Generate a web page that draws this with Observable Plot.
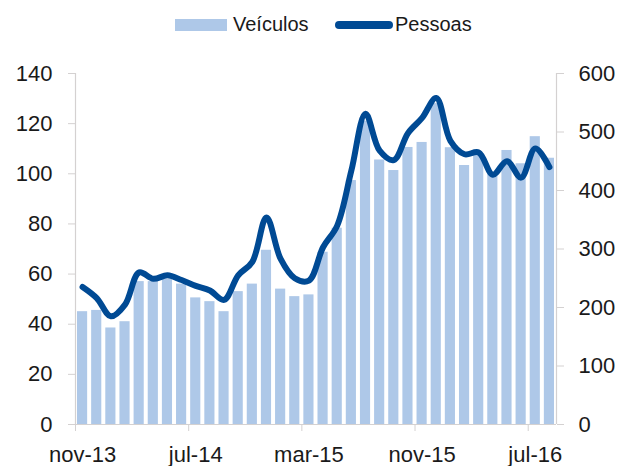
<!DOCTYPE html>
<html>
<head>
<meta charset="utf-8">
<script src="https://cdn.jsdelivr.net/npm/d3@7"></script>
<script src="https://cdn.jsdelivr.net/npm/@observablehq/plot@0.6"></script>
<style>
  html, body { margin: 0; padding: 0; background: #fff; }
  body { width: 632px; height: 466px; overflow: hidden; font-family: "Liberation Sans", Arial, sans-serif; color: #1a1a1a; }
  #legend { position: relative; height: 45px; width: 632px; }
  #legend .sw { position: absolute; }
  #legend .lb { position: absolute; font-size: 20px; line-height: 20px; top: 14px; }
  #chart svg { display: block; }
</style>
</head>
<body>
<div id="legend">
  <div class="sw" style="left:175px;top:19px;width:52px;height:12px;background:#aec8e8"></div>
  <div class="lb" style="left:233px">Veículos</div>
  <div class="sw" style="left:335px;top:21px;width:58px;height:8px;border-radius:4px;background:#004a94"></div>
  <div class="lb" style="left:395px">Pessoas</div>
</div>
<div id="chart"></div>
<script>
const months = ["nov-13","dez-13","jan-14","fev-14","mar-14","abr-14","mai-14","jun-14","jul-14","ago-14","set-14","out-14",
  "nov-14","dez-14","jan-15","fev-15","mar-15","abr-15","mai-15","jun-15","jul-15","ago-15","set-15","out-15",
  "nov-15","dez-15","jan-16","fev-16","mar-16","abr-16","mai-16","jun-16","jul-16","ago-16"];
const veiculos = [45, 45.5, 38.5, 41, 57, 57, 58, 56, 50.5, 49, 45, 53, 56, 69.5, 54, 51, 51.7, 68.7, 78.3, 97.3,
  121, 105.5, 101.3, 110.5, 112.5, 128, 110.4, 103.3, 108, 100, 109.3, 104, 114.8, 106.2];
const pessoas = [235, 216, 185, 205, 260, 249, 255, 247, 237, 229, 213, 255, 278, 354, 283, 250, 246, 303, 340, 434,
  531, 468, 452, 498, 524, 558, 485, 462, 465, 427, 450, 422, 472, 440];
const leftTicks = [0, 20, 40, 60, 80, 100, 120, 140];
const rightTicks = [0, 100, 200, 300, 400, 500, 600];
const xTickLabels = ["nov-13", "jul-14", "mar-15", "nov-15", "jul-16"];

const leftMax = 140, rightMax = 600;
const toLeft = v => v * leftMax / rightMax;
const data = months.map((m, i) => ({m, i, v: veiculos[i], p: pessoas[i]}));
const labelIdx = xTickLabels.map(l => months.indexOf(l));

const axisColor = "#d4d1d1";
const textColor = "#1a1a1a";

const chart = Plot.plot({
  width: 632,
  height: 421,
  marginLeft: 75,
  marginRight: 76,
  marginTop: 28,
  marginBottom: 42,
  style: {fontFamily: "'Liberation Sans', Arial, sans-serif", background: "#fff"},
  x: {type: "linear", domain: [0, months.length]},
  y: {domain: [0, leftMax]},
  marks: [
    Plot.rectY(data, {x1: "i", x2: d => d.i + 1, y: "v", fill: "#aec8e8", insetLeft: 2, insetRight: 2}),
    Plot.ruleX([0, months.length], {stroke: axisColor, strokeWidth: 1.2}),
    Plot.ruleY([0], {stroke: axisColor, strokeWidth: 1.2}),
    Plot.axisY(leftTicks, {anchor: "left", tickSize: 7, tickPadding: 16, stroke: axisColor, fill: textColor, fontSize: 22, label: null}),
    Plot.axisY(rightTicks.map(toLeft), {anchor: "right", tickSize: 7, tickPadding: 15, stroke: axisColor, fill: textColor, fontSize: 22, label: null,
      tickFormat: d => String(Math.round(d * rightMax / leftMax))}),
    Plot.axisX(labelIdx, {anchor: "bottom", tickSize: 7, stroke: axisColor, tickFormat: () => "", label: null}),
    Plot.axisX(labelIdx.map(i => i + 0.5), {anchor: "bottom", tickSize: 0, tickPadding: 22, fill: textColor, fontSize: 22, label: null,
      tickFormat: d => months[Math.round(d - 0.5)]}),
    Plot.line(data, {x: d => d.i + 0.5, y: d => toLeft(d.p), stroke: "#004a94", strokeWidth: 6, curve: "catmull-rom",
      strokeLinecap: "round", strokeLinejoin: "round"})
  ]
});
document.getElementById("chart").appendChild(chart);
</script>
</body>
</html>
